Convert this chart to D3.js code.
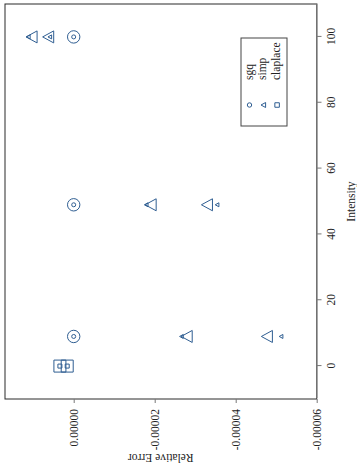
<!DOCTYPE html>
<html>
<head>
<meta charset="utf-8">
<script src="https://cdn.jsdelivr.net/npm/d3@7"></script>
<style>
  body { margin: 0; background: #fff; }
  svg { display: block; }
  text { font-family: "Liberation Serif", "DejaVu Serif", serif; fill: #222; }
</style>
</head>
<body>
<svg id="chart" width="357" height="468"></svg>
<script>
// values (relative error in absolute units)
const intensityTicks = [0, 20, 40, 60, 80, 100];
const errorTicks = [0, -0.00002, -0.00004, -0.00006];

const sgqIntensity = [9, 49, 100];
const sgqErr = [0, 0, 0];

const simpIntensity = [9, 49, 100];
const simpErrA = [-2.79e-5, -1.90e-5, 1.04e-5];
const simpErrASmall = [-2.66e-5, -1.79e-5, 1.12e-5];
const simpErrB = [-4.77e-5, -3.29e-5, 0.63e-5];
const simpErrBSmall = [-5.12e-5, -3.54e-5, 0.59e-5];

const claplaceIntensity = [0, 0];
const claplaceErr = [0.34e-5, 0.16e-5];

const legendNames = ["sgq", "simp", "claplace"];

const markColor = "#2f5e92";

// the chart is drawn upright, then turned a quarter turn counter-clockwise
const W = 468, H = 357;
const svg = d3.select("#chart");
const g = svg.append("g").attr("transform", "translate(0," + W + ") rotate(-90)");

const box = {left: 69, right: 464, top: 5, bottom: 316.5};

const x = d3.scaleLinear().domain([-10, 110]).range([box.left, box.right]);
const y = d3.scaleLinear().domain([1.696e-5, -6e-5]).range([box.top, 316.7]);

// symbol types: triangle (apex up) and square, centred on their box
const triangle = {
    draw(ctx, size) {
        const s = Math.sqrt(size);
        ctx.moveTo(0, -s * 0.46);
        ctx.lineTo(s / 2, s * 0.46);
        ctx.lineTo(-s / 2, s * 0.46);
        ctx.closePath();
    }
};
const square = {
    draw(ctx, size) {
        const s = Math.sqrt(size) / 2;
        ctx.rect(-s, -s, 2 * s, 2 * s);
    }
};

// frame
g.append("rect")
    .attr("x", box.left).attr("y", box.top)
    .attr("width", box.right - box.left).attr("height", box.bottom - box.top)
    .attr("fill", "none").attr("stroke", "#2a2a2a").attr("stroke-width", 1);

// R style minus sign (plain hyphen)
const fmtErr = d => d3.format(".5f")(d).replace("\u2212", "-");

// intensity axis (bottom of upright chart)
const xAxis = d3.axisBottom(x).tickValues(intensityTicks).tickSize(5).tickPadding(5).tickSizeOuter(0);
const xg = g.append("g").attr("transform", "translate(0," + box.bottom + ")").call(xAxis)
    .attr("font-family", null).attr("font-size", null);
xg.select(".domain").attr("stroke", "#8a8a8a").attr("stroke-width", 1.5);
xg.selectAll(".tick line").attr("stroke", "#777");
xg.selectAll(".tick text").attr("font-size", "11.5px").attr("fill", "#222");

// relative error axis (left of upright chart)
const yAxis = d3.axisLeft(y).tickValues(errorTicks).tickFormat(fmtErr).tickSize(4).tickPadding(6).tickSizeOuter(0);
const yg = g.append("g").attr("transform", "translate(" + box.left + ",0)").call(yAxis)
    .attr("font-family", null).attr("font-size", null);
yg.select(".domain").remove();
yg.selectAll(".tick line").attr("stroke", "#777");
yg.selectAll(".tick text").attr("font-size", "11.5px").attr("fill", "#222");

// axis titles
g.append("text")
    .attr("x", (box.left + box.right) / 2).attr("y", 355)
    .attr("text-anchor", "middle").attr("font-size", "11.5px")
    .text("Intensity");
g.append("text")
    .attr("transform", "translate(14," + (box.top + box.bottom) / 2 + ") rotate(-90)")
    .attr("text-anchor", "middle").attr("font-size", "11.5px")
    .text("Relative Error");

// points
function drawPoints(xs, ys, type, size) {
    g.append("g").selectAll("path")
        .data(xs.map((d, i) => [d, ys[i]]))
        .join("path")
        .attr("transform", d => "translate(" + x(d[0]) + "," + y(d[1]) + ")")
        .attr("d", d3.symbol().type(type).size(size))
        .attr("fill", "none")
        .attr("stroke", markColor)
        .attr("stroke-width", 1);
}

drawPoints(sgqIntensity, sgqErr, d3.symbolCircle, Math.PI * 6.2 * 6.2);
drawPoints(sgqIntensity, sgqErr, d3.symbolCircle, Math.PI * 2 * 2);
drawPoints(simpIntensity, simpErrA, triangle, 12 * 12);
drawPoints(simpIntensity, simpErrASmall, triangle, 4 * 4);
drawPoints(simpIntensity, simpErrB, triangle, 12 * 12);
drawPoints(simpIntensity, simpErrBSmall, triangle, 4 * 4);
drawPoints(claplaceIntensity, claplaceErr, square, 12 * 12);
drawPoints(claplaceIntensity, claplaceErr, square, 4 * 4);

// legend
const legend = g.append("g");
legend.append("rect")
    .attr("x", 342).attr("y", 241).attr("width", 88).attr("height", 46)
    .attr("fill", "#fff").attr("stroke", "#444").attr("stroke-width", 1);
const legendTypes = [d3.symbolCircle, triangle, square];
const legendSizes = [Math.PI * 2.2 * 2.2, 5 * 5, 4.5 * 4.5];
legendNames.forEach((name, i) => {
    const cy = 249.5 + i * 13.8;
    legend.append("path")
        .attr("transform", "translate(363," + cy + ")")
        .attr("d", d3.symbol().type(legendTypes[i]).size(legendSizes[i]))
        .attr("fill", "none").attr("stroke", markColor).attr("stroke-width", 1);
    legend.append("text")
        .attr("x", 388).attr("y", cy + 3)
        .attr("font-size", "11.5px")
        .text(name);
});
</script>
</body>
</html>
